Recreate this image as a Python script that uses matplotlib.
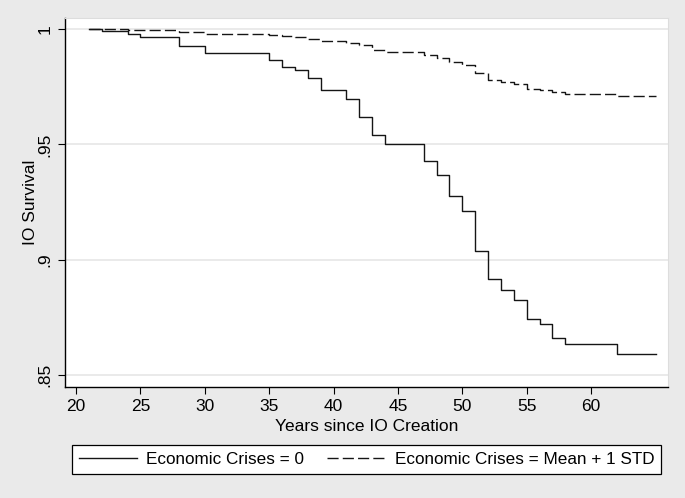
import numpy as np
import matplotlib
matplotlib.use('Agg')
import matplotlib.pyplot as plt

plt.rcParams['font.family'] = ['Liberation Sans', 'DejaVu Sans']

# Kaplan-Meier style survival estimates
years = [21, 22, 24, 25, 28, 30, 35, 36, 37, 38, 39, 41, 42, 43, 44,
         47, 48, 49, 50, 51, 52, 53, 54, 55, 56, 57, 58, 62, 65]
surv_zero = [1.0, 0.9990, 0.9978, 0.9967, 0.9925, 0.9897, 0.9866, 0.9835,
             0.9821, 0.9786, 0.9734, 0.9695, 0.9620, 0.9541, 0.9503,
             0.9428, 0.9366, 0.9275, 0.9210, 0.9040, 0.8915, 0.8869,
             0.8827, 0.8745, 0.8722, 0.8660, 0.8636, 0.8592, 0.8592]
surv_high = [1.0, 0.9998, 0.9996, 0.9994, 0.9985, 0.9980, 0.9974, 0.9968,
             0.9965, 0.9958, 0.9948, 0.9941, 0.9930, 0.9910, 0.9902,
             0.9887, 0.9874, 0.9856, 0.9843, 0.9808, 0.9781, 0.9771,
             0.9760, 0.9742, 0.9735, 0.9725, 0.9719, 0.9709, 0.9709]

x_ticks = [20, 25, 30, 35, 40, 45, 50, 55, 60]
y_ticks = [0.85, 0.9, 0.95, 1.0]
y_tick_labels = ['.85', '.9', '.95', '1']

labels = ['Economic Crises = 0', 'Economic Crises = Mean + 1 STD']

BG = '#eaeaea'
GRID = '#e4e4e4'

fig = plt.figure(figsize=(6.85, 4.98), dpi=100, facecolor=BG)
ax = fig.add_axes([0.0949, 0.2229, 0.8801, 0.7416])
ax.set_facecolor('white')

# 网格
for yv in y_ticks:
    ax.axhline(yv, color=GRID, lw=1.1, zorder=0)

ax.step(years, surv_zero, where='post', color='#151515', lw=1.0,
        label=labels[0], zorder=3)
ax.step(years, surv_high, where='post', color='#151515', lw=1.0,
        linestyle=(0, (8, 3)), label=labels[1], zorder=3)

ax.set_xlim(19.146, 65.96)
ax.set_ylim(0.8449, 1.0049)
ax.set_xticks(x_ticks)
ax.set_yticks(y_ticks)
ax.set_yticklabels(y_tick_labels, rotation=90, va='center')
ax.tick_params(axis='x', length=5, width=0.8, pad=4, labelsize=12.5, colors='black')
ax.tick_params(axis='y', length=5, width=0.8, pad=4, labelsize=12.5, colors='black')

ax.set_xlabel('Years since IO Creation', fontsize=12.5, labelpad=3)
ax.set_ylabel('IO Survival', fontsize=12.5, labelpad=0)

for side in ['top', 'right']:
    ax.spines[side].set_color('#dddddd')
    ax.spines[side].set_linewidth(0.8)
for side in ['left', 'bottom']:
    ax.spines[side].set_color('black')
    ax.spines[side].set_linewidth(1.0)

leg = fig.legend(loc='lower left', bbox_to_anchor=(0.105, 0.048),
                 ncol=2, fontsize=12.3, frameon=True,
                 fancybox=False, edgecolor='black', framealpha=1,
                 handlelength=3.4, handletextpad=0.55, columnspacing=1.35,
                 borderpad=0.4, borderaxespad=0)
leg.get_frame().set_linewidth(0.9)

fig.savefig('out.png', dpi=100, facecolor=BG)
